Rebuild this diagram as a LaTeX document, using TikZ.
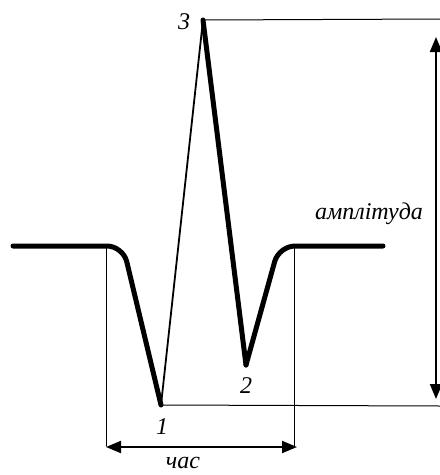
\documentclass[tikz,border=0pt]{standalone}
\usepackage{fontspec}
\setmainfont{Liberation Serif}
\usetikzlibrary{arrows.meta}
\tikzset{
  every picture/.style={font=\fontsize{24}{28}\selectfont\itshape, line join=round, line cap=round},
  wave/.style={line width=5pt},
  ray/.style={line width=1.8pt},
  guide/.style={line width=1pt},
  dim/.style={line width=2pt, {Triangle[length=15pt,width=12pt]}-{Triangle[length=15pt,width=12pt]}},
}
\begin{document}
\begin{tikzpicture}[x=1pt,y=-1pt]
\useasboundingbox (0,0) rectangle (440,475);
% pulse
\coordinate (s) at (13,246);
\coordinate (a) at (123,246);
\coordinate (p1) at (161,405);
\coordinate (p3) at (203,20);
\coordinate (p2) at (246,365);
\coordinate (b) at (279,246);
\coordinate (e) at (383,246);
\draw[wave, rounded corners=16pt] (s) -- (a) -- (p1);
\draw[ray] (p1) -- (p3);
\draw[wave] (p3) -- (p2);
\draw[wave, rounded corners=16pt] (p2) -- (b) -- (e);
% guides
\coordinate (lt) at (106,248); \coordinate (lb) at (106,446);
\coordinate (rt) at (294,248); \coordinate (rb) at (294,446);
\coordinate (ut) at (440,19); \coordinate (ub) at (440,406);
\draw[guide] (lt) -- (lb);
\draw[guide] (rt) -- (rb);
\draw[guide] (p3) -- (ut);
\draw[guide] (p1) -- (ub);
% dimensions
\coordinate (ta) at (106,447); \coordinate (tb) at (297,447);
\coordinate (aa) at (436,37); \coordinate (ab) at (436,399);
\draw[dim] (ta) -- (tb);
\draw[dim] (aa) -- (ab);
% labels
\node (n3) at (184,22) {3};
\node (n1) at (162,427) {1};
\node (n2) at (246,386) {2};
\node (amp) at (369,214) {амплітуда};
\node[inner sep=0pt] (dur) at (183,463) {час};
\end{tikzpicture}
\end{document}
